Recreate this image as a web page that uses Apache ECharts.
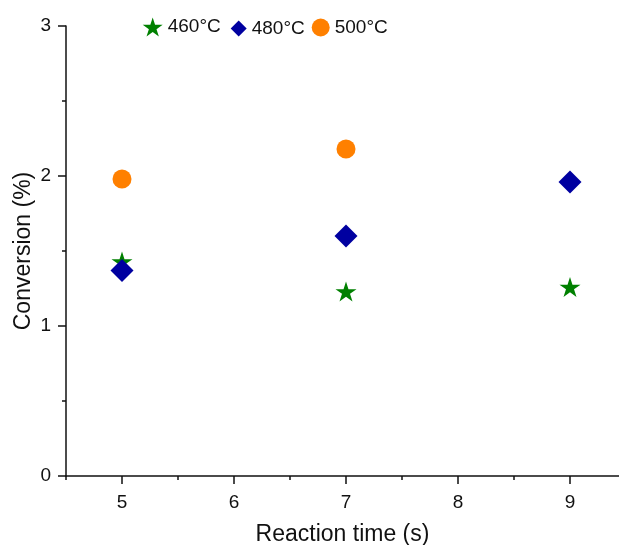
<!DOCTYPE html>
<html>
<head>
<meta charset="utf-8">
<script src="https://cdn.jsdelivr.net/npm/echarts@6/dist/echarts.min.js"></script>
<style>
  html, body { margin: 0; padding: 0; background: #fff; overflow: hidden; }
  #chart { width: 619px; height: 545px; }
</style>
</head>
<body>
<div id="chart"></div>
<script>
// Reaction time (s) and conversion (%) at three temperatures
const seriesNames = ['460°C', '480°C', '500°C'];
const time460 = [5, 7, 9];
const conv460 = [1.43, 1.23, 1.26];
const time480 = [5, 7, 9];
const conv480 = [1.37, 1.60, 1.96];
const time500 = [5, 7];
const conv500 = [1.98, 2.18];

const xMajorTicks = [5, 6, 7, 8, 9];
const xMinorTicks = [4.5, 5.5, 6.5, 7.5, 8.5];

const STAR = 'path://M50 0 L61.23 34.55 L97.55 34.55 L68.17 55.9 L79.39 90.45 L50 69.1 L20.61 90.45 L31.83 55.9 L2.45 34.55 L38.77 34.55 Z';
const FONT = '"Liberation Sans", Arial, sans-serif';
const INK = '#111';
const colors = ['#008000', '#0000a0', '#ff8000'];

function pairs(xs, ys) { return xs.map((x, i) => [x, ys[i]]); }

function legendFor(name, icon, color, left, size) {
  return {
    data: [name], left: left, top: 27 - size[1] / 2, padding: 0,
    icon: icon, itemWidth: size[0], itemHeight: size[1],
    itemStyle: { color: color },
    textStyle: { fontFamily: FONT, fontSize: 19, color: INK, padding: [0, 0, 0, 0] },
    selectedMode: false
  };
}

const axisLineStyle = { color: INK, width: 1.5 };
// x range: the axis is cut off by the right edge a little before 9.5
const X_MIN = 4.5, X_MAX = 9.4375;

const chart = echarts.init(document.getElementById('chart'), null, { renderer: 'canvas', width: 619, height: 545 });
chart.setOption({
  animation: false,
  backgroundColor: '#fff',
  // fixed plot rectangle; the x title may run off the bottom edge
  grid: { left: 66, top: 26, right: 0, bottom: 69, containLabel: false, outerBoundsMode: 'none' },
  legend: [
    legendFor(seriesNames[0], STAR, colors[0], 142.7, [20, 19]),
    legendFor(seriesNames[1], 'diamond', colors[1], 230.7, [16, 16]),
    legendFor(seriesNames[2], 'circle', colors[2], 311.7, [18, 18])
  ],
  xAxis: [
    {
      type: 'value', min: X_MIN, max: X_MAX,
      name: 'Reaction time (s)', nameLocation: 'middle', nameGap: 47, nameMoveOverlap: false,
      nameTextStyle: { fontFamily: FONT, fontSize: 23, color: INK },
      axisLine: { show: true, onZero: false, lineStyle: axisLineStyle },
      axisTick: { show: true, length: 8, customValues: xMajorTicks, lineStyle: axisLineStyle },
      axisLabel: { customValues: xMajorTicks, margin: 17, fontFamily: FONT, fontSize: 19, color: INK },
      splitLine: { show: false }
    },
    {
      type: 'value', min: X_MIN, max: X_MAX, position: 'bottom',
      axisLine: { show: false },
      axisTick: { show: true, length: 4, customValues: xMinorTicks, lineStyle: axisLineStyle },
      axisLabel: { show: false },
      splitLine: { show: false }
    }
  ],
  yAxis: {
    type: 'value', min: 0, max: 3, interval: 1,
    name: 'Conversion (%)', nameLocation: 'middle', nameGap: 31, nameMoveOverlap: false,
    nameTextStyle: { fontFamily: FONT, fontSize: 23, color: INK },
    axisLine: { show: true, onZero: false, lineStyle: axisLineStyle },
    axisTick: { show: true, length: 8, lineStyle: axisLineStyle },
    minorTick: { show: true, splitNumber: 2, length: 4, lineStyle: axisLineStyle },
    axisLabel: { margin: 15, fontFamily: FONT, fontSize: 19, color: INK },
    splitLine: { show: false }
  },
  series: [
    { name: seriesNames[0], type: 'scatter', symbol: STAR, symbolSize: [21, 20],
      itemStyle: { color: colors[0], opacity: 1 }, data: pairs(time460, conv460), z: 2 },
    { name: seriesNames[1], type: 'scatter', symbol: 'diamond', symbolSize: [23, 23],
      itemStyle: { color: colors[1], opacity: 1 }, data: pairs(time480, conv480), z: 3 },
    { name: seriesNames[2], type: 'scatter', symbol: 'circle', symbolSize: 19,
      itemStyle: { color: colors[2], opacity: 1 }, data: pairs(time500, conv500), z: 4 }
  ]
});
</script>
</body>
</html>
